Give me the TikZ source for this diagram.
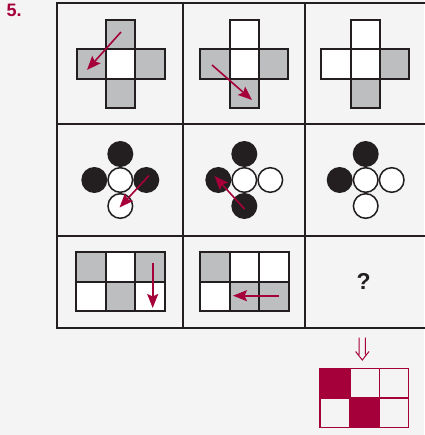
\documentclass[tikz,border=0pt]{standalone}
\usepackage{fontspec}
\setmainfont{Liberation Sans}
\usetikzlibrary{arrows.meta}
\definecolor{bg}{HTML}{F4F4F4}
\definecolor{ink}{HTML}{231F20}
\definecolor{graycell}{HTML}{BDBEC0}
\definecolor{crimson}{HTML}{A6003A}
\tikzset{
  gridline/.style={draw=ink, line width=2pt},
  sqbox/.style={draw=ink, line width=2pt},
  circ/.style={draw=ink, line width=1.5pt, fill=white},
  blackcirc/.style={fill=ink},
  movearrow/.style={draw=crimson, line width=1.6pt, -{Stealth[length=14pt,width=11pt,inset=2.5pt]}},
}
\newcommand\mysq[3]{\filldraw[sqbox, fill=#3] ({#1-14.65},{#2-14.65}) rectangle ++(29.3,29.3);}
\newcommand\myc[3]{\ifx#3b\fill[blackcirc] (#1,#2) circle (13);\else\filldraw[circ] (#1,#2) circle (12.3);\fi}
\begin{document}
\begin{tikzpicture}[x=1pt,y=-1pt]
\fill[bg] (0,0) rectangle (424,435);
\useasboundingbox (0,0) rectangle (424,435);

% title
\node[anchor=base west, inner sep=0pt, text=crimson, font=\bfseries\fontsize{18}{20}\selectfont] (title) at (6.3,16.9) {5.};

% grid
\draw[gridline] (426,3) -- (57,3) -- (57,328) -- (426,328);
\draw[gridline] (183,3) -- (183,328);
\draw[gridline] (305,3) -- (305,328);
\draw[gridline] (57,124.5) -- (426,124.5);
\draw[gridline] (57,235.5) -- (426,235.5);

% row 1 crosses
% cell 1
\mysq{120.7}{34.7}{graycell}
\mysq{91.4}{64}{graycell}
\mysq{150}{64}{graycell}
\mysq{120.7}{93.3}{graycell}
\mysq{120.7}{64}{white}
\coordinate (a1s) at (121,32);
\coordinate (a1e) at (87,70);
\draw[movearrow] (a1s) -- (a1e);
% cell 2
\mysq{244.2}{34.7}{white}
\mysq{214.9}{64}{graycell}
\mysq{273.5}{64}{graycell}
\mysq{244.2}{93.3}{graycell}
\mysq{244.2}{64}{white}
\coordinate (a2s) at (212,65);
\coordinate (a2e) at (252,100);
\draw[movearrow] (a2s) -- (a2e);
% cell 3
\mysq{365.2}{34.7}{white}
\mysq{335.9}{64}{white}
\mysq{394.5}{64}{graycell}
\mysq{365.2}{93.3}{graycell}
\mysq{365.2}{64}{white}

% row 2 circles
% cell 1
\myc{120.3}{154}{b}
\myc{94.3}{180}{b}
\myc{146.3}{180}{b}
\myc{120.3}{180}{w}
\myc{120.3}{206}{w}
\coordinate (b1s) at (149,175.5);
\coordinate (b1e) at (119.5,207.5);
\draw[movearrow] (b1s) -- (b1e);
% cell 2
\myc{244.3}{154}{b}
\myc{218.3}{180}{b}
\myc{244.3}{206}{b}
\myc{244.3}{180}{w}
\myc{270.3}{180}{w}
\coordinate (b2s) at (244.5,209);
\coordinate (b2e) at (214.5,176);
\draw[movearrow] (b2s) -- (b2e);
% cell 3
\myc{365.7}{154}{b}
\myc{339.7}{180}{b}
\myc{365.7}{180}{w}
\myc{391.7}{180}{w}
\myc{365.7}{206}{w}

% row 3 rectangles
% cell 1
\fill[graycell] (76.3,252.3) rectangle (105.9,281.7);
\fill[graycell] (135.4,252.3) rectangle (165,281.7);
\fill[graycell] (105.9,281.7) rectangle (135.4,311);
\fill[white] (105.9,252.3) rectangle (135.4,281.7);
\fill[white] (76.3,281.7) rectangle (105.9,311);
\fill[white] (135.4,281.7) rectangle (165,311);
\draw[sqbox] (76.3,252.3) rectangle (165,311);
\draw[sqbox] (105.9,252.3) -- (105.9,311) (135.4,252.3) -- (135.4,311) (76.3,281.7) -- (165,281.7);
\coordinate (c1s) at (152.7,263.3);
\coordinate (c1e) at (152.7,308);
\draw[movearrow] (c1s) -- (c1e);
% cell 2
\fill[graycell] (200,252.3) rectangle (229.6,281.7);
\fill[graycell] (229.6,281.7) rectangle (288.7,311);
\fill[white] (229.6,252.3) rectangle (288.7,281.7);
\fill[white] (200,281.7) rectangle (229.6,311);
\draw[sqbox] (200,252.3) rectangle (288.7,311);
\draw[sqbox] (229.6,252.3) -- (229.6,311) (259.1,252.3) -- (259.1,311) (200,281.7) -- (288.7,281.7);
\coordinate (c2s) at (279,295.7);
\coordinate (c2e) at (233,295.7);
\draw[movearrow] (c2s) -- (c2e);
% cell 3
\node[text=ink, font=\bfseries\fontsize{23}{26}\selectfont, inner sep=0pt] (q) at (363.7,281.7) {?};

% implication arrow
\draw[crimson, line width=1pt, line join=miter]
  (359.2,337.5) -- (359.2,354.5)
  (365.4,337.5) -- (365.4,354.5)
  (355.6,351.5) -- (362.3,360) -- (369,351.5);

% answer
\fill[crimson] (320,368.3) rectangle (350,398);
\fill[crimson] (350,398) rectangle (379.3,427.7);
\draw[crimson, line width=1.5pt] (320,368.3) rectangle (408.7,427.7);
\draw[crimson, line width=1.5pt] (350,368.3) -- (350,427.7) (379.3,368.3) -- (379.3,427.7) (320,398) -- (408.7,398);
\end{tikzpicture}
\end{document}
